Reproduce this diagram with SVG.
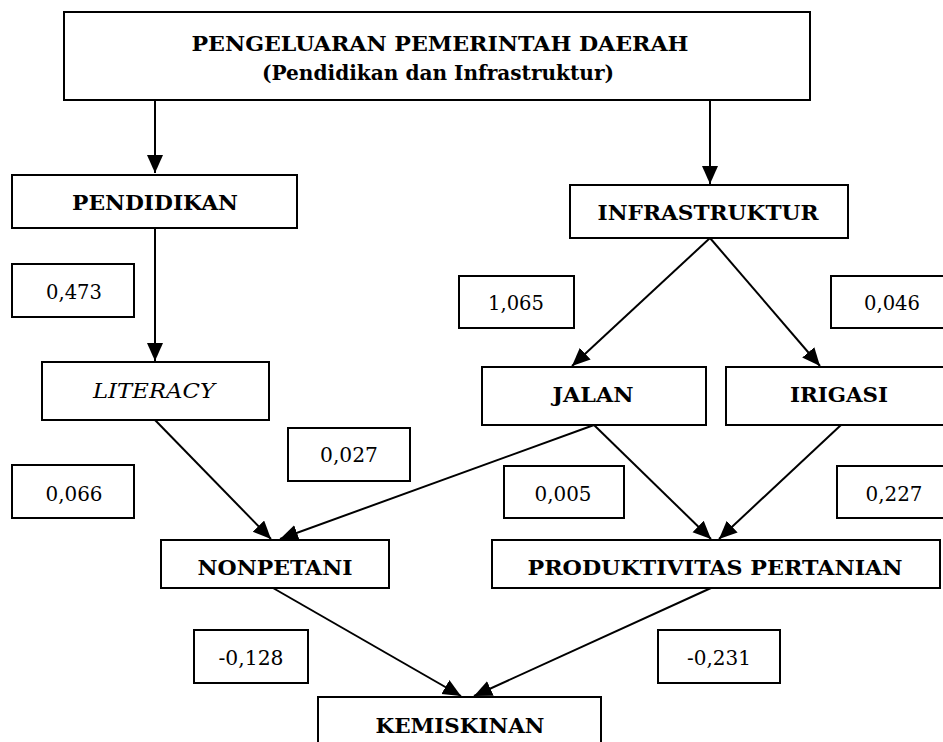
<svg xmlns="http://www.w3.org/2000/svg" width="943" height="742" viewBox="0 0 943 742">
<style>
rect{fill:#fff;stroke:#000;stroke-width:2}
text{font-family:"DejaVu Serif","Liberation Serif",serif;fill:#000;text-anchor:middle}
.b{font-weight:bold;font-size:21px}
.i{font-style:italic;font-size:21px}
.n{font-size:20px}
.c line{stroke:#000;stroke-width:2;marker-end:url(#ah)}
</style>
<defs>
<marker id="ah" markerUnits="userSpaceOnUse" markerWidth="19" markerHeight="17" refX="18" refY="8" orient="auto">
<path d="M0,0 L18,8 L0,16 z" fill="#000"/>
</marker>
</defs>
<rect width="943" height="742" style="stroke:none"/>
<g class="c" id="connectors">
<line x1="155" y1="100" x2="155" y2="173"/>
<line x1="710" y1="100" x2="710" y2="184"/>
<line x1="155" y1="228" x2="155" y2="361"/>
<line x1="710" y1="238" x2="572" y2="366"/>
<line x1="710" y1="238" x2="820" y2="366"/>
<line x1="155" y1="420" x2="271" y2="539"/>
<line x1="594" y1="425" x2="280" y2="539"/>
<line x1="594" y1="425" x2="711" y2="539"/>
<line x1="841" y1="425" x2="719" y2="539"/>
<line x1="273" y1="588" x2="461" y2="696"/>
<line x1="711" y1="588" x2="474" y2="696"/>
</g>
<g id="top"><rect x="64" y="12" width="746" height="88"/>
<text class="b" x="440" y="51" textLength="497" lengthAdjust="spacingAndGlyphs">PENGELUARAN PEMERINTAH DAERAH</text>
<text class="b" x="438" y="80" textLength="352" lengthAdjust="spacingAndGlyphs">(Pendidikan dan Infrastruktur)</text></g>
<g id="pendidikan"><rect x="12" y="175" width="285" height="53"/><text class="b" x="155" y="210" textLength="166" lengthAdjust="spacingAndGlyphs">PENDIDIKAN</text></g>
<g id="v0473"><rect x="12" y="264" width="122" height="53"/><text class="n" x="74" y="299" textLength="56" lengthAdjust="spacingAndGlyphs">0,473</text></g>
<g id="literacy"><rect x="42" y="362" width="227" height="58"/><text class="i" x="154" y="398" textLength="122" lengthAdjust="spacingAndGlyphs">LITERACY</text></g>
<g id="infrastruktur"><rect x="570" y="185" width="278" height="53"/><text class="b" x="708" y="220" textLength="221" lengthAdjust="spacingAndGlyphs">INFRASTRUKTUR</text></g>
<g id="v1065"><rect x="459" y="276" width="115" height="52"/><text class="n" x="516" y="310" textLength="56" lengthAdjust="spacingAndGlyphs">1,065</text></g>
<g id="v0046"><rect x="831" y="276" width="130" height="52"/><text class="n" x="892" y="310" textLength="56" lengthAdjust="spacingAndGlyphs">0,046</text></g>
<g id="jalan"><rect x="482" y="367" width="224" height="58"/><text class="b" x="593" y="402" textLength="81" lengthAdjust="spacingAndGlyphs">JALAN</text></g>
<g id="irigasi"><rect x="726" y="367" width="230" height="58"/><text class="b" x="839" y="402" textLength="98" lengthAdjust="spacingAndGlyphs">IRIGASI</text></g>
<g id="v0027"><rect x="288" y="428" width="122" height="53"/><text class="n" x="349" y="462" textLength="58" lengthAdjust="spacingAndGlyphs">0,027</text></g>
<g id="v0066"><rect x="12" y="465" width="122" height="53"/><text class="n" x="74" y="501" textLength="57" lengthAdjust="spacingAndGlyphs">0,066</text></g>
<g id="v0005"><rect x="504" y="466" width="120" height="52"/><text class="n" x="563" y="501" textLength="57" lengthAdjust="spacingAndGlyphs">0,005</text></g>
<g id="v0227"><rect x="837" y="466" width="124" height="52"/><text class="n" x="894" y="501" textLength="57" lengthAdjust="spacingAndGlyphs">0,227</text></g>
<g id="nonpetani"><rect x="161" y="540" width="228" height="48"/><text class="b" x="275" y="575" textLength="155" lengthAdjust="spacingAndGlyphs">NONPETANI</text></g>
<g id="produktivitas"><rect x="492" y="540" width="448" height="48"/><text class="b" x="715" y="575" textLength="375" lengthAdjust="spacingAndGlyphs">PRODUKTIVITAS PERTANIAN</text></g>
<g id="vm0128"><rect x="194" y="630" width="114" height="53"/><text class="n" x="251" y="665" textLength="65" lengthAdjust="spacingAndGlyphs">-0,128</text></g>
<g id="vm0231"><rect x="658" y="630" width="122" height="53"/><text class="n" x="719" y="665" textLength="64" lengthAdjust="spacingAndGlyphs">-0,231</text></g>
<g id="kemiskinan"><rect x="318" y="697" width="283" height="63"/><text class="b" x="460" y="733" textLength="169" lengthAdjust="spacingAndGlyphs">KEMISKINAN</text></g>
</svg>
